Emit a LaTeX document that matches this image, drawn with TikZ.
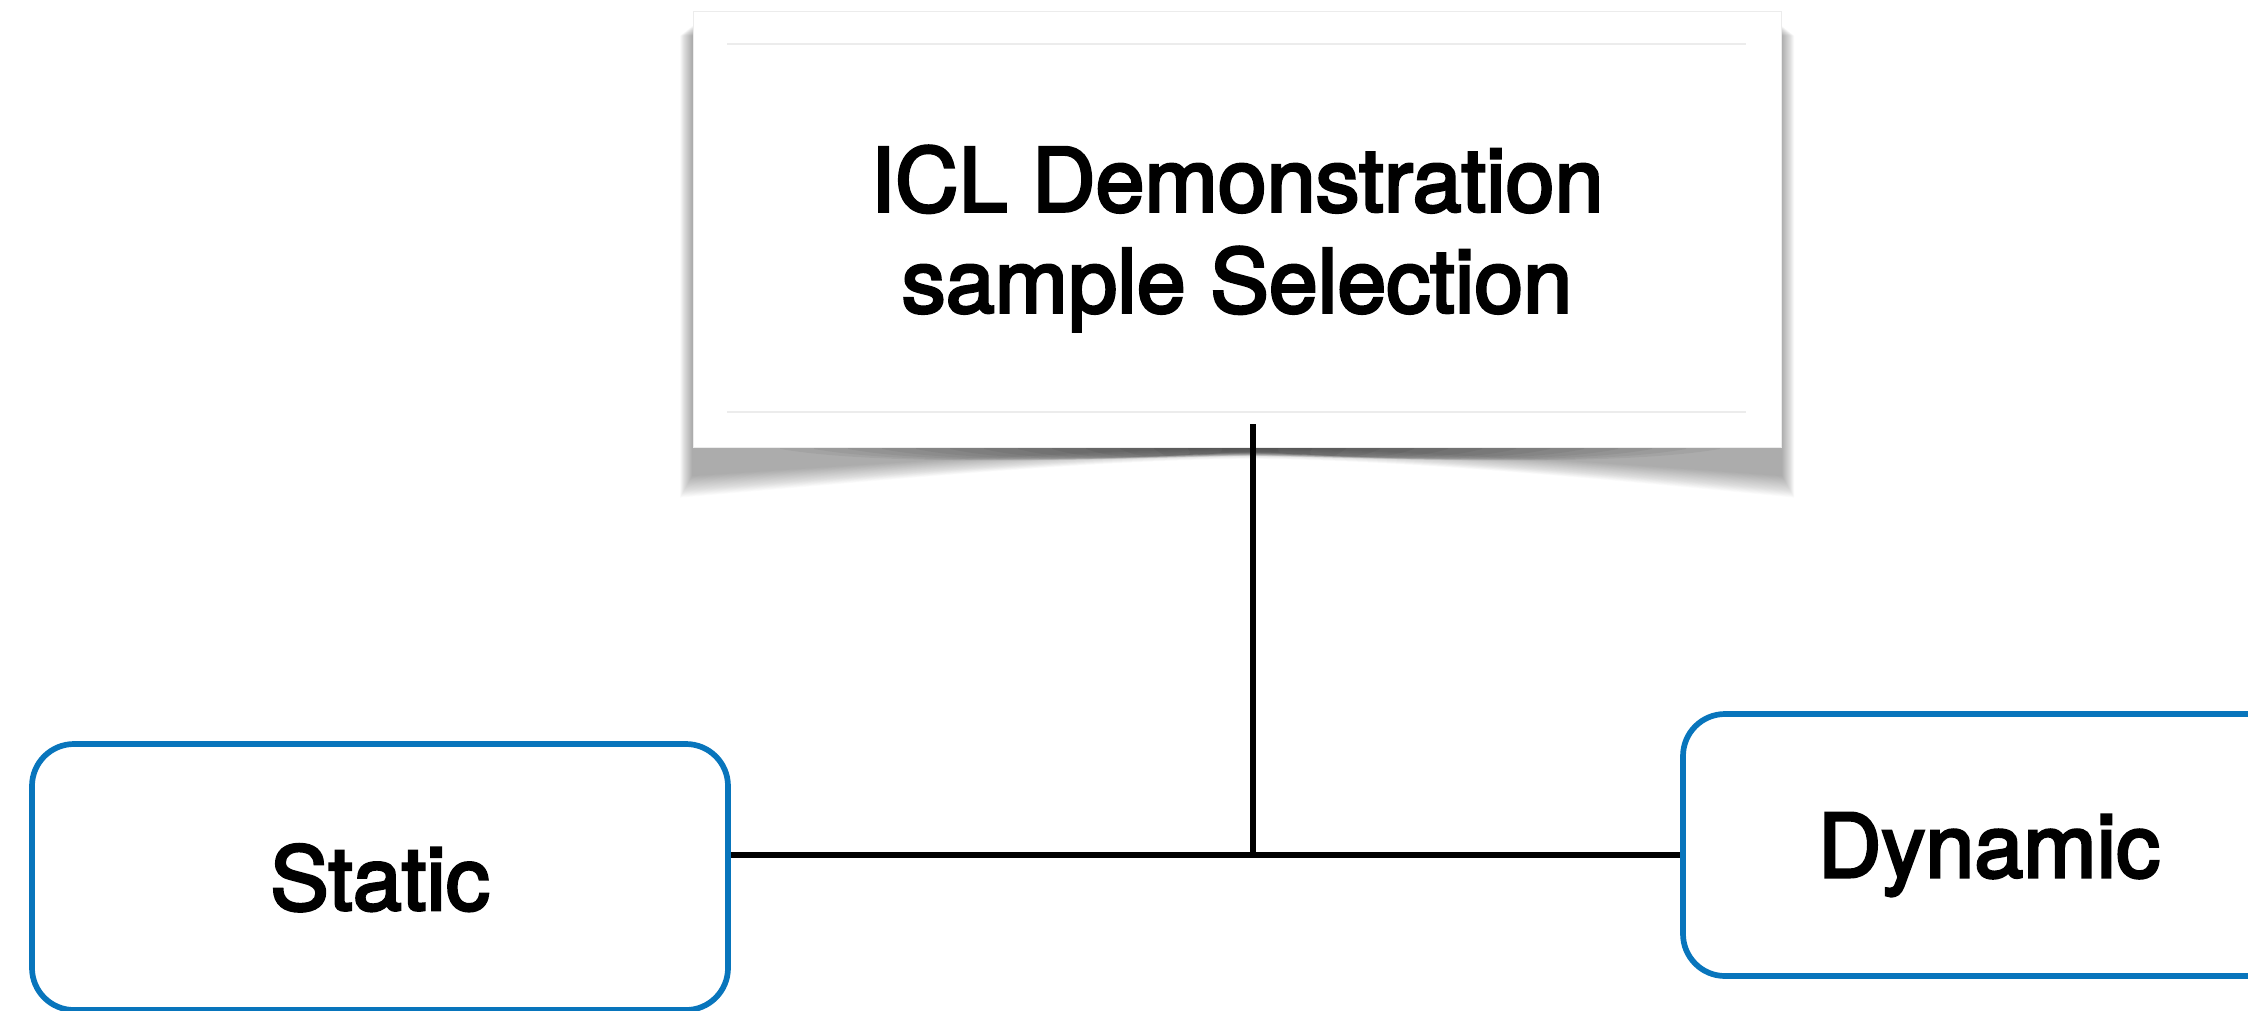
\documentclass[tikz,border=0pt]{standalone}
\usepackage{fontspec}
\setmainfont{TeX Gyre Heros}[BoldFont={TeX Gyre Heros}, BoldFeatures={FakeBold=3.2}]
\definecolor{boxblue}{RGB}{8,117,188}
\definecolor{rulegray}{RGB}{236,236,236}
\tikzset{
  heading/.style={font=\fontsize{88}{101}\selectfont\bfseries, align=center, text depth=0pt},
  card/.style={draw=rulegray, line width=1pt, fill=white, inner sep=0pt},
  branch/.style={draw=boxblue, line width=5.7pt, fill=white, rounded corners=42pt,
                 inner sep=0pt, font=\fontsize{88}{101}\selectfont\bfseries, text depth=0pt},
  link/.style={draw=black, line width=5.5pt},
}
\begin{document}
\begin{tikzpicture}[x=1pt, y=-1pt]
\useasboundingbox (0,0) rectangle (2248,1010);

% soft curled shadow under the title card, built from stacked translucent layers
\foreach \d in {0,...,24}{
  \fill[black, opacity=0.017]
    (692-0.5*\d, 26+0.4*\d) -- (692-0.5*\d, 476+0.9*\d)
    .. controls (900, 462+0.7*\d) and (1100, 449+0.45*\d) .. (1250, 448+0.45*\d)
    .. controls (1400, 449+0.45*\d) and (1600, 462+0.7*\d) .. (1782+0.5*\d, 476+0.9*\d)
    -- (1782+0.5*\d, 26+0.4*\d) -- cycle;
}
% darker core hugging the lower edge of the card
\foreach \k in {0,...,13}{
  \fill[black, opacity=0.05]
    (780+34*\k, 440) -- (780+34*\k, 449)
    .. controls (900+25*\k, 469-0.7*\k) and (1150, 457-0.3*\k) .. (1250, 456-0.3*\k)
    .. controls (1350, 457-0.3*\k) and (1600-25*\k, 469-0.7*\k) .. (1720-34*\k, 449)
    -- (1720-34*\k, 440) -- cycle;
}

% title card
\node[card, minimum width=1088pt, minimum height=436pt] (top) at (1237,229) {};
\draw[rulegray, line width=1.5pt] (727,44) -- (1746,44);
\draw[rulegray, line width=1.5pt] (727,412) -- (1746,412);
\node[heading] (title) at (top.center) {ICL Demonstration\\sample Selection};

% branch boxes
\node[branch, minimum width=696pt, minimum height=266pt] (static) at (380,877) {Static};
\node[branch, minimum width=612pt, minimum height=262pt] (dynamic) at (1989,845) {Dynamic};

% connectors
\coordinate (stem) at (1253,424);
\coordinate (hub) at (1253,855);
\draw[link] (stem) -- (hub);
\draw[link] (hub) -- (hub -| static.east);
\draw[link] (hub) -- (hub -| dynamic.west);
\end{tikzpicture}
\end{document}
